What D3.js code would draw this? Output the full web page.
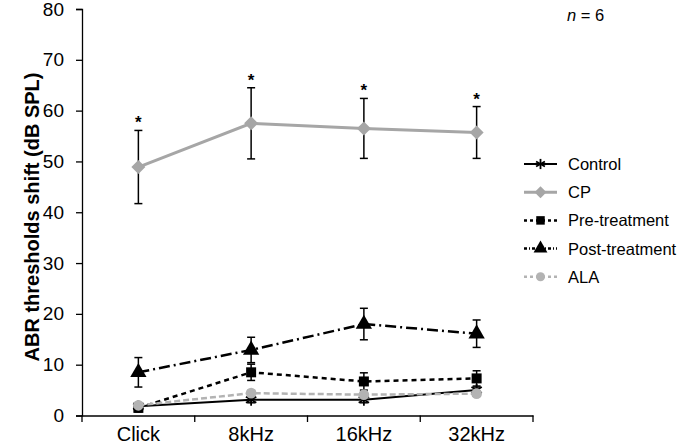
<!DOCTYPE html>
<html>
<head>
<meta charset="utf-8">
<script src="https://cdn.jsdelivr.net/npm/d3@7"></script>
<style>
  body { margin: 0; background: #fff; }
  text { font-family: "Liberation Sans", Arial, sans-serif; }
</style>
</head>
<body>
<svg width="685" height="447"></svg>
<script>
var categories = ['Click', '8kHz', '16kHz', '32kHz'];
var yTicks = [0, 10, 20, 30, 40, 50, 60, 70, 80];

var controlValues = [1.8, 3.1, 3.1, 5.0];
var controlErr = [0.5, 0.6, 0.6, 0.6];
var cpValues = [48.9, 57.5, 56.5, 55.7];
var cpErr = [7.2, 7.0, 5.9, 5.1];
var preValues = [1.5, 8.5, 6.7, 7.3];
var preErr = [0.8, 1.6, 1.7, 1.5];
var postValues = [8.5, 12.9, 18.0, 16.1];
var postErr = [2.9, 2.5, 3.1, 2.7];
var alaValues = [2.0, 4.4, 4.1, 4.3];
var alaErr = [0.4, 0.5, 0.5, 0.5];
var significant = [true, true, true, true];

var svg = d3.select('svg');

var x = d3.scaleBand().domain(categories).range([82, 533]);
var y = d3.scaleLinear().domain([0, 80]).range([415.5, 9]);

var series = [
  { name: 'Control', values: controlValues, err: controlErr, color: '#000', width: 2, dash: null, marker: 'star' },
  { name: 'CP', values: cpValues, err: cpErr, color: '#a6a6a6', width: 3, dash: null, marker: 'diamond' },
  { name: 'Pre-treatment', values: preValues, err: preErr, color: '#000', width: 2.5, dash: '5,4', marker: 'square' },
  { name: 'Post-treatment', values: postValues, err: postErr, color: '#000', width: 2.5, dash: '11,4,2,4', marker: 'triangle' },
  { name: 'ALA', values: alaValues, err: alaErr, color: '#b3b3b3', width: 2.5, dash: '6,3', marker: 'circle' }
];

var cx = function(i) { return x(categories[i]) + x.bandwidth() / 2; };

// axes
var yAxis = svg.append('g')
    .attr('transform', 'translate(82,0)')
    .call(d3.axisLeft(y).tickValues(yTicks).tickSize(6).tickPadding(12));
yAxis.select('.domain').attr('stroke', '#000').attr('stroke-width', 1.3);
yAxis.selectAll('.tick line').attr('stroke-width', 1.3);
yAxis.selectAll('.tick text')
    .style('font-size', '19px')
    .style('font-family', '"Liberation Sans", Arial, sans-serif');

var xAxis = svg.append('g')
    .attr('transform', 'translate(0,415.5)')
    .call(d3.axisBottom(x).tickSize(0).tickPadding(11).tickSizeOuter(0));
xAxis.select('.domain').attr('stroke', '#000').attr('stroke-width', 1.3);
xAxis.selectAll('.tick text')
    .style('font-size', '20px')
    .style('font-family', '"Liberation Sans", Arial, sans-serif');

svg.append('g').selectAll('line')
  .data(categories.map(function(c) { return x(c); }).concat([x.range()[1]]))
  .enter().append('line')
    .attr('x1', function(d) { return d; })
    .attr('x2', function(d) { return d; })
    .attr('y1', 415.5)
    .attr('y2', 422)
    .attr('stroke', '#000')
    .attr('stroke-width', 1.3);

svg.append('text')
    .attr('transform', 'translate(39,217) rotate(-90)')
    .attr('text-anchor', 'middle')
    .style('font-size', '20px')
    .style('font-weight', 'bold')
    .text('ABR thresholds shift (dB SPL)');

var drawMarker = function(g, type, px, py, color, scale) {
  scale = scale || 1;
  if (type === 'star') {
    var r = 6 * scale;
    [0, 60, 120].forEach(function(a) {
      var rad = a * Math.PI / 180;
      g.append('line')
        .attr('x1', px - r * Math.sin(rad)).attr('y1', py - r * Math.cos(rad))
        .attr('x2', px + r * Math.sin(rad)).attr('y2', py + r * Math.cos(rad))
        .attr('stroke', color).attr('stroke-width', 1.8);
    });
    return;
  }
  if (type === 'diamond') {
    var h = 7 * scale;
    g.append('path')
      .attr('d', 'M0,' + (-h) + 'L' + h + ',0L0,' + h + 'L' + (-h) + ',0Z')
      .attr('transform', 'translate(' + px + ',' + py + ')')
      .attr('fill', color);
    return;
  }
  var sym = { square: d3.symbolSquare, triangle: d3.symbolTriangle, circle: d3.symbolCircle }[type];
  var size = { square: 100, triangle: 115, circle: 90 }[type] * scale * scale;
  g.append('path')
    .attr('d', d3.symbol().type(sym).size(size)())
    .attr('transform', 'translate(' + px + ',' + py + ')')
    .attr('fill', color);
};

var line = d3.line()
    .x(function(d, i) { return cx(i); })
    .y(function(d) { return y(d); });

series.forEach(function(s) {
  var g = svg.append('g');
  g.append('path')
    .datum(s.values)
    .attr('d', line)
    .attr('fill', 'none')
    .attr('stroke', s.color)
    .attr('stroke-width', s.width)
    .attr('stroke-dasharray', s.dash);

  s.values.forEach(function(v, i) {
    var e = s.err[i];
    var px = cx(i);
    g.append('line')
      .attr('x1', px).attr('x2', px)
      .attr('y1', y(v + e)).attr('y2', y(v - e))
      .attr('stroke', '#000').attr('stroke-width', 1.5);
    [v + e, v - e].forEach(function(w) {
      g.append('line')
        .attr('x1', px - 4).attr('x2', px + 4)
        .attr('y1', y(w)).attr('y2', y(w))
        .attr('stroke', '#000').attr('stroke-width', 1.5);
    });
  });

  s.values.forEach(function(v, i) {
    drawMarker(g, s.marker, cx(i), y(v), s.color);
  });
});

// significance marks above CP
svg.append('g').selectAll('text')
  .data(cpValues.filter(function(d, i) { return significant[i]; }))
  .enter().append('text')
    .attr('x', function(d, i) { return cx(i); })
    .attr('y', function(d, i) { return y(d + cpErr[i]) - 2; })
    .attr('text-anchor', 'middle')
    .style('font-size', '17px')
    .style('font-weight', 'bold')
    .text('*');

// legend
var legend = svg.append('g');
series.forEach(function(s, i) {
  var ly = 164 + i * 28.2;
  legend.append('line')
    .attr('x1', 524).attr('x2', 557)
    .attr('y1', ly).attr('y2', ly)
    .attr('stroke', s.color)
    .attr('stroke-width', s.width)
    .attr('stroke-dasharray', s.dash ? (s.marker === 'triangle' ? '3,2,1,2' : '3,3') : null);
  drawMarker(legend, s.marker, 540.5, ly, s.color, 0.85);
  legend.append('text')
    .attr('x', 568).attr('y', ly + 6)
    .style('font-size', '16.5px')
    .text(s.name);
});

var nLabel = svg.append('text').attr('x', 567).attr('y', 21).style('font-size', '16.5px');
nLabel.append('tspan').style('font-style', 'italic').text('n');
nLabel.append('tspan').text(' = 6');
</script>
</body>
</html>
